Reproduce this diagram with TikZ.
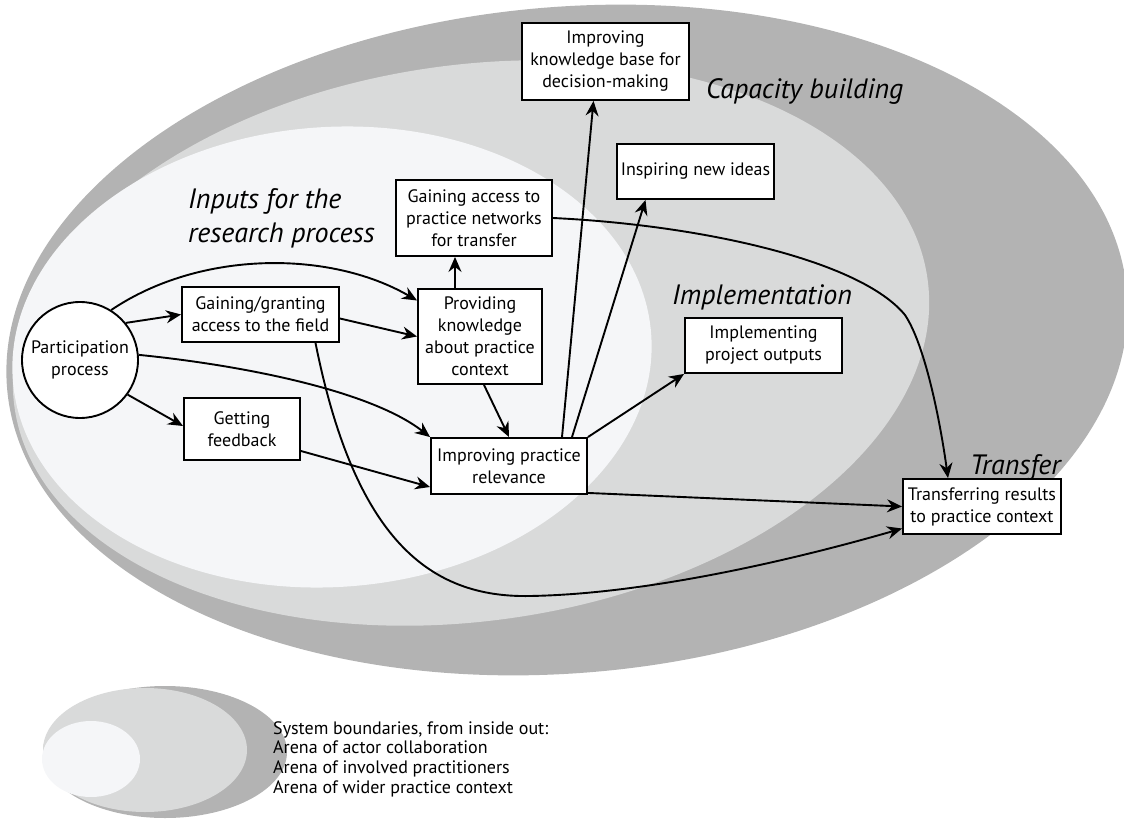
\documentclass[tikz,border=0pt]{standalone}
\usepackage{fontspec}
\setmainfont{PT Sans}
\usetikzlibrary{arrows.meta,calc}
\definecolor{wider}{HTML}{B3B3B3}
\definecolor{involved}{HTML}{D9DADA}
\definecolor{actor}{HTML}{F5F6F8}
\begin{document}
\begin{tikzpicture}[x=1pt,y=-1pt,
  box/.style={draw=black, line width=1.9pt, fill=white, align=center,
    inner sep=0pt, font=\fontsize{18}{22}\selectfont},
  link/.style={line width=1.9pt, -{Stealth[length=15pt,width=13pt,inset=5pt]}},
  zone/.style={font=\itshape\fontsize{28}{34}\selectfont, inner sep=0pt, align=left},
  legendtext/.style={font=\fontsize{18}{19.7}\selectfont, inner sep=0pt, align=left}
]
\path[use as bounding box] (0,0) rectangle (1124,821);

% system boundaries
\fill[wider, rotate around={5:(567,340)}] (567,340) ellipse [x radius=562, y radius=333];
\fill[involved, rotate around={8:(471,343)}] (471,343) ellipse [x radius=461, y radius=278];
\fill[actor, rotate around={4:(332,357)}] (332,357) ellipse [x radius=320, y radius=230];

% legend ellipses
\fill[wider] (165,752) ellipse [x radius=122, y radius=66];
\fill[involved] (145,750) ellipse [x radius=102, y radius=62];
\fill[actor] (91,759) ellipse [x radius=49, y radius=38];
\node[legendtext, anchor=north west] (legend) at (273,721)
  {System boundaries, from inside out:\\Arena of actor collaboration\\Arena of involved practitioners\\Arena of wider practice context};

% zone labels
\node[zone, anchor=base west] (lblcap) at (706,99) {Capacity building};
\node[zone, anchor=north west] (lblinp) at (188,188) {Inputs for the\\research process};
\node[zone, anchor=base west] (lblimp) at (672,304) {Implementation};
\node[zone, anchor=base west] (lbltra) at (970,474) {Transfer};

% activities
\node[draw=black, line width=1.9pt, fill=white, circle, minimum size=116pt,
  inner sep=0pt, align=center, font=\fontsize{18}{22}\selectfont] (part) at (80,360) {Participation\\process};
\node[box, minimum width=157pt, minimum height=55pt] (gg) at (260.5,314.5) {Gaining/granting\\access to the field};
\node[box, minimum width=116pt, minimum height=62pt] (gf) at (242,429) {Getting\\feedback};
\node[box, minimum width=124pt, minimum height=95pt] (pk) at (480,336.5) {Providing\\knowledge\\about practice\\context};
\node[box, minimum width=156pt, minimum height=56pt] (ipr) at (509,466) {Improving practice\\relevance};
\node[box, minimum width=157pt, minimum height=55pt] (ipo) at (763.5,345.5) {Implementing\\project outputs};
\node[box, minimum width=156pt, minimum height=76pt] (gan) at (474,218) {Gaining access to\\practice networks\\for transfer};
\node[box, minimum width=167pt, minimum height=77pt] (ikb) at (605.5,61.5) {Improving\\knowledge base for\\decision-making};
\node[box, minimum width=157pt, minimum height=55pt] (ini) at (695.5,171.5) {Inspiring new ideas};
\node[box, minimum width=158pt, minimum height=55pt] (trc) at (982,506.5) {Transferring results\\to practice context};

% connectors
\draw[link] (part.58) .. controls (200,250) and (330,250) .. ([yshift=36pt]pk.west);
\draw[link] (part.39) -- (gg.west);
\draw[link] (part.5) .. controls (240,365) and (370,390) .. (ipr.north west);
\draw[link] (part.-36) -- ([yshift=3pt]gf.west);
\draw[link] ([yshift=-4pt]gg.east) -- (pk.west);
\draw[link] ([xshift=55pt]gg.south) .. controls (355,540) and (430,598) .. (530,596)
  .. controls (650,594) and (800,558) .. ([yshift=-22pt]trc.west);
\draw[link] ([yshift=-22pt]gf.east) -- ([yshift=-21pt]ipr.west);
\draw[link] ([xshift=-25pt]pk.north) -- ([xshift=-19pt]gan.south);
\draw[link] ([xshift=4pt]pk.south) -- (ipr.north);
\draw[link] ([xshift=53pt]ipr.north) -- ([xshift=-12pt]ikb.south);
\draw[link] ([xshift=63pt]ipr.north) -- ([xshift=-50pt]ini.south);
\draw[link] (ipr.north east) -- (ipo.south west);
\draw[link] ([yshift=2pt]ipr.south east) -- (trc.west);
\draw[link] (gan.east) .. controls (700,225) and (860,260) .. (905,315)
  .. controls (925,345) and (940,420) .. ([xshift=-34pt]trc.north);
\end{tikzpicture}
\end{document}
